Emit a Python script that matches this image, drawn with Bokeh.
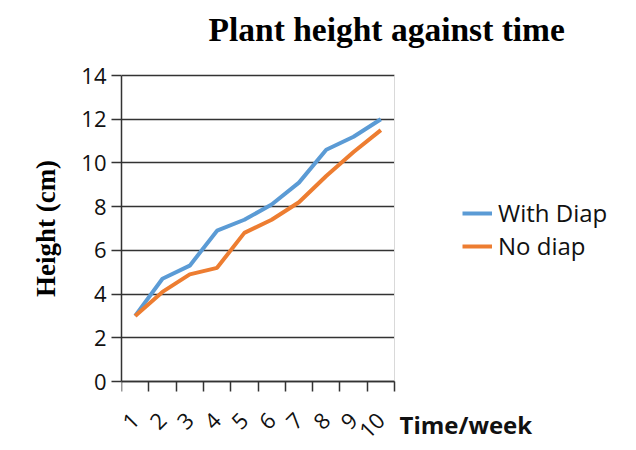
from bokeh.plotting import figure
from bokeh.models import Legend, LegendItem, Label, FixedTicker, Range1d, Grid
from bokeh.embed import file_html
from bokeh.resources import INLINE

weeks = [1, 2, 3, 4, 5, 6, 7, 8, 9, 10]
week_labels = ["1", "2", "3", "4", "5", "6", "7", "8", "9", "10"]
with_diap = [3.0, 4.7, 5.3, 6.9, 7.4, 8.1, 9.1, 10.6, 11.2, 12.0]
no_diap = [3.0, 4.1, 4.9, 5.2, 6.8, 7.4, 8.2, 9.4, 10.5, 11.5]
y_ticks = [0, 2, 4, 6, 8, 10, 12, 14]

SANS = "Open Sans"
SERIF = "Liberation Serif"

# layout geometry (pixels): plot area 121..394 x 75..381 inside a 636x450 canvas
W, H = 636, 450
FL, FR, FT, FB = 121, 394, 75, 381
TOP = 6  # canvas frame top, so the y axis title centres on the plot area
x_lo, x_hi = 0.5, 10.5
y_lo, y_hi = 0, 14
xpx = (FR - FL) / (x_hi - x_lo)
ypx = (FB - FT) / (y_hi - y_lo)
x_end = x_hi + (W - FR) / xpx
y_start = y_lo - (H - FB) / ypx
y_end = y_hi + (FT - TOP) / ypx

p = figure(width=W, height=H, output_backend="svg", toolbar_location=None,
           x_range=Range1d(x_lo, x_end), y_range=Range1d(y_start, y_end),
           min_border_left=FL, min_border_right=0, min_border_top=TOP, min_border_bottom=0)

r1 = p.line(weeks, with_diap, line_color="#5B9BD5", line_width=4)
r2 = p.line(weeks, no_diap, line_color="#ED7D31", line_width=4)

# x axis drawn at y = 0
p.xaxis.fixed_location = 0
p.xaxis.bounds = (x_lo, x_hi)
p.xaxis.ticker = FixedTicker(ticks=weeks, minor_ticks=[w - 0.5 for w in weeks] + [10.5])
p.xaxis.major_label_overrides = {w: l for w, l in zip(weeks, week_labels)}
p.xaxis.major_tick_out = 0
p.xaxis.major_tick_in = 0
p.xaxis.minor_tick_out = 10
p.xaxis.minor_tick_in = 0
p.xaxis.minor_tick_line_color = "#333333"
p.xaxis.minor_tick_line_width = 1.5
p.xaxis.major_label_orientation = 0.785398
p.xaxis.major_label_standoff = 25

p.yaxis.bounds = (y_lo, y_hi)
p.yaxis.ticker = FixedTicker(ticks=y_ticks)
p.yaxis.minor_tick_line_color = None
p.yaxis.major_tick_out = 10
p.yaxis.major_tick_in = 0
p.yaxis.major_label_standoff = 5
p.yaxis.axis_label = "Height (cm)"
p.yaxis.axis_label_text_font = SERIF
p.yaxis.axis_label_text_font_size = "27px"
p.yaxis.axis_label_text_font_style = "bold"
p.yaxis.axis_label_text_color = "#000000"
p.yaxis.axis_label_standoff = 17

for ax in (p.xaxis, p.yaxis):
    ax.axis_line_color = "#333333"
    ax.axis_line_width = 1.5
    ax.major_tick_line_color = "#333333"
    ax.major_tick_line_width = 1.5
    ax.major_label_text_font = SANS
    ax.major_label_text_font_size = "22px"
    ax.major_label_text_color = "#111111"

p.xgrid.grid_line_color = None
p.outline_line_color = None
yg = p.ygrid[0]
yg.ticker = FixedTicker(ticks=y_ticks)
yg.grid_line_color = "#333333"
yg.grid_line_width = 1.5
if hasattr(yg, "cross_bounds"):
    yg.cross_bounds = (x_lo, x_hi)
    border = Grid(dimension=0, ticker=FixedTicker(ticks=[x_hi]), cross_bounds=(y_lo, y_hi),
                  grid_line_color="#d9d9d9", grid_line_width=1)
    p.add_layout(border)
else:
    yg.grid_line_color = None
    p.segment(x0=[x_lo] * len(y_ticks), x1=[x_hi] * len(y_ticks), y0=y_ticks, y1=y_ticks,
              line_color="#333333", line_width=1.5, level="underlay")

# chart title
p.add_layout(Label(x=208 - FL, y=H - TOP - 38 + 15, x_units="screen", y_units="screen",
                   text="Plant height against time", text_font=SERIF, text_font_size="33.5px",
                   text_font_style="bold", text_color="#000000", text_baseline="alphabetic"))

# x axis title
p.add_layout(Label(x=399 - FL, y=H - 434 + 10, x_units="screen", y_units="screen", text="Time/week",
                   text_font=SANS, text_font_size="24px", text_font_style="bold",
                   text_color="#111111", text_baseline="alphabetic"))

legend = Legend(items=[LegendItem(label="With Diap", renderers=[r1]),
                       LegendItem(label="No diap", renderers=[r2])],
                location=(462 - FL, 188))
legend.label_text_font = SANS
legend.label_text_font_size = "24px"
legend.label_text_color = "#111111"
legend.glyph_width = 30
legend.glyph_height = 20
legend.label_height = 33
legend.spacing = 0
legend.label_standoff = 6
legend.padding = 0
legend.border_line_alpha = 0
legend.background_fill_alpha = 0
p.add_layout(legend, "center")

open("out.html", "w").write(file_html(p, INLINE))
